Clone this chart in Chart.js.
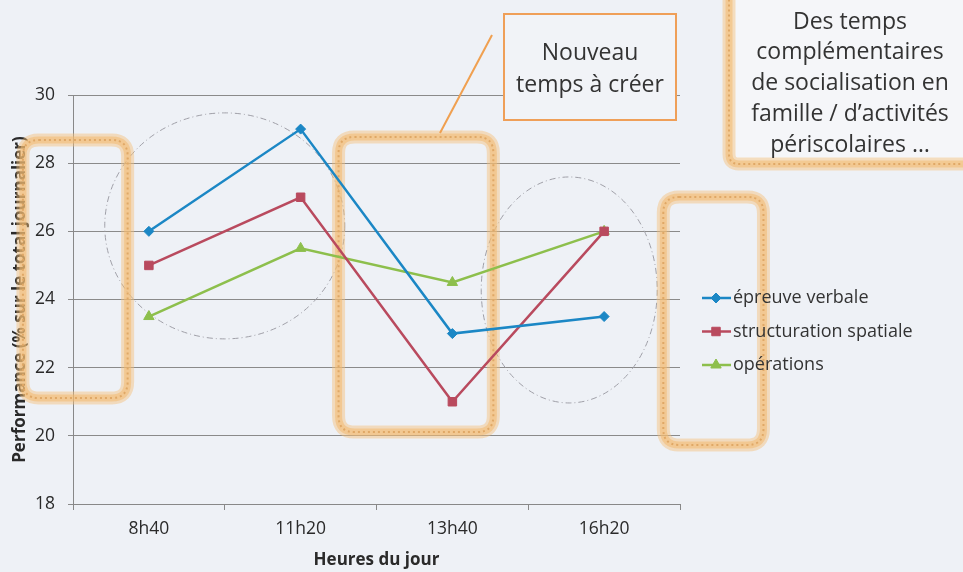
<!DOCTYPE html>
<html lang="fr">
<head>
    <meta charset="UTF-8">
    <title>Performance selon l'heure du jour</title>
    <script src="https://cdn.jsdelivr.net/npm/chart.js"></script>
    <style>
        html, body { margin: 0; padding: 0; background: #eef1f6; }
        #wrap { width: 963px; height: 572px; }
    </style>
</head>
<body>
    <div id="wrap">
        <canvas id="Chart" width="963" height="572"></canvas>
    </div>

    <script>
        // data
        const heures = ['8h40', '11h20', '13h40', '16h20'];
        const verbale = [26, 29, 23, 23.5];
        const spatiale = [25, 27, 21, 26];
        const operations = [23.5, 25.5, 24.5, 26];
        const seriesNames = ['épreuve verbale', 'structuration spatiale', 'opérations'];

        const FONT = '"Open Sans", Lato, sans-serif';

        // highlight boxes, in category index / value units
        const glowBoxes = [
            { x0: -0.83, x1: -0.14, y0: 28.68, y1: 21.11 },
            { x0: 1.25, x1: 2.27, y0: 28.77, y1: 20.11 },
            { x0: 3.39, x1: 4.05, y0: 27.01, y1: 19.73 }
        ];
        // dashed circles (centre in index / value, radii in px)
        const circles = [
            { x: 0.5, y: 26.16, rx: 120, ry: 113 },
            { x: 2.77, y: 24.28, rx: 88, ry: 113 }
        ];

        function roundRect(ctx, x, y, w, h, r) {
            ctx.beginPath();
            ctx.moveTo(x + r, y);
            ctx.lineTo(x + w - r, y);
            ctx.quadraticCurveTo(x + w, y, x + w, y + r);
            ctx.lineTo(x + w, y + h - r);
            ctx.quadraticCurveTo(x + w, y + h, x + w - r, y + h);
            ctx.lineTo(x + r, y + h);
            ctx.quadraticCurveTo(x, y + h, x, y + h - r);
            ctx.lineTo(x, y + r);
            ctx.quadraticCurveTo(x, y, x + r, y);
            ctx.closePath();
        }

        function glowRect(ctx, x, y, w, h, r) {
            ctx.save();
            roundRect(ctx, x, y, w, h, r);
            ctx.strokeStyle = 'rgba(244, 190, 120, 0.45)';
            ctx.lineWidth = 13;
            ctx.stroke();
            ctx.strokeStyle = 'rgba(242, 185, 112, 0.55)';
            ctx.lineWidth = 7;
            ctx.stroke();
            ctx.setLineDash([2, 3]);
            ctx.strokeStyle = '#e0a866';
            ctx.lineWidth = 2;
            ctx.stroke();
            ctx.restore();
        }

        const annotations = {
            id: 'annotations',
            beforeDraw(chart) {
                const ctx = chart.ctx;
                ctx.save();
                ctx.fillStyle = '#eef1f6';
                ctx.fillRect(0, 0, chart.width, chart.height);
                ctx.restore();
            },
            beforeDatasetsDraw(chart) {
                const ctx = chart.ctx;
                const xs = chart.scales.x, ys = chart.scales.y;
                const step = xs.getPixelForValue(1) - xs.getPixelForValue(0);
                const px = i => xs.getPixelForValue(0) + i * step;

                // dashed circles
                ctx.save();
                ctx.strokeStyle = '#a0a0a8';
                ctx.lineWidth = 1;
                ctx.setLineDash([6, 3, 1, 3]);
                circles.forEach(c => {
                    ctx.beginPath();
                    ctx.ellipse(px(c.x), ys.getPixelForValue(c.y), c.rx, c.ry, 0, 0, Math.PI * 2);
                    ctx.stroke();
                });
                ctx.restore();

                glowBoxes.forEach(b => {
                    const x0 = px(b.x0), x1 = px(b.x1);
                    const y0 = ys.getPixelForValue(b.y0), y1 = ys.getPixelForValue(b.y1);
                    glowRect(ctx, x0, y0, x1 - x0, y1 - y0, 16);
                });

                // callout line
                ctx.save();
                ctx.strokeStyle = '#f0a050';
                ctx.lineWidth = 2;
                ctx.beginPath();
                ctx.moveTo(440, 133);
                ctx.lineTo(492, 35);
                ctx.stroke();

                // "Nouveau temps à créer" box
                ctx.fillStyle = '#f1f3f7';
                ctx.fillRect(504, 14, 172, 106);
                ctx.strokeStyle = '#ef9f58';
                ctx.lineWidth = 2;
                ctx.strokeRect(504, 14, 172, 106);
                ctx.fillStyle = '#333';
                ctx.font = '23px ' + FONT;
                ctx.textAlign = 'center';
                ctx.textBaseline = 'middle';
                ctx.fillText('Nouveau', 590, 53);
                ctx.fillText('temps à créer', 590, 85);
                ctx.restore();

                // top-right box
                ctx.save();
                roundRect(ctx, 729, -20, 250, 184, 10);
                ctx.fillStyle = '#f5f6f9';
                ctx.fill();
                ctx.restore();
                glowRect(ctx, 729, -20, 250, 184, 10);
                ctx.save();
                ctx.fillStyle = '#333';
                ctx.font = '23px ' + FONT;
                ctx.textAlign = 'center';
                ctx.textBaseline = 'middle';
                ['Des temps', 'complémentaires', 'de socialisation en',
                 'famille / d\u2019activités', 'périscolaires \u2026'].forEach((t, i) => {
                    ctx.fillText(t, 850, 22 + i * 30.8);
                });
                ctx.restore();
            },
            afterDraw(chart) {
                // legend: line with marker, then label
                const ctx = chart.ctx;
                ctx.save();
                chart.data.datasets.forEach((ds, i) => {
                    const y = 298 + i * 33.5;
                    ctx.strokeStyle = ds.borderColor;
                    ctx.fillStyle = ds.backgroundColor;
                    ctx.lineWidth = 2.5;
                    ctx.beginPath();
                    ctx.moveTo(702, y);
                    ctx.lineTo(731, y);
                    ctx.stroke();
                    ctx.lineWidth = 1;
                    Chart.helpers.drawPoint(ctx, {
                        pointStyle: ds.pointStyle,
                        radius: ds.pointRadius,
                        rotation: 0,
                        borderWidth: 1
                    }, 716, y);
                    ctx.fillStyle = '#333';
                    ctx.font = '18px ' + FONT;
                    ctx.textAlign = 'left';
                    ctx.textBaseline = 'middle';
                    ctx.fillText(ds.label, 733, y);
                });
                ctx.restore();
            }
        };

        function createChart() {
            const ctx = document.getElementById('Chart');
            const colors = ['#1b87c5', '#b94a5e', '#8dbf4c'];
            const styles = ['rectRot', 'rect', 'triangle'];
            const radii = [5, 6, 6];
            const values = [verbale, spatiale, operations];

            new Chart(ctx, {
                type: 'line',
                data: {
                    labels: heures,
                    datasets: values.map((v, i) => ({
                        label: seriesNames[i],
                        data: v,
                        borderColor: colors[i],
                        backgroundColor: colors[i],
                        borderWidth: 2.5,
                        pointStyle: styles[i],
                        pointRadius: radii[i],
                        pointBorderWidth: 1,
                        tension: 0,
                        fill: false
                    }))
                },
                options: {
                    responsive: false,
                    animation: false,
                    layout: { padding: { top: 95, right: 283, left: 0, bottom: 0 } },
                    plugins: {
                        legend: { display: false },
                        tooltip: { enabled: false }
                    },
                    scales: {
                        x: {
                            offset: true,
                            grid: {
                                offset: true,
                                drawOnChartArea: false,
                                tickLength: 6,
                                color: '#888'
                            },
                            border: { color: '#888' },
                            ticks: {
                                color: '#2a2a2a',
                                font: { family: FONT, size: 17.5 },
                                padding: 9
                            },
                            title: {
                                display: true,
                                text: 'Heures du jour',
                                color: '#2a2a2a',
                                font: { family: FONT, size: 17, weight: 'bold' },
                                padding: { top: 2, bottom: 2 }
                            },
                            afterFit(scale) { scale.height = 68; }
                        },
                        y: {
                            min: 18,
                            max: 30,
                            ticks: {
                                stepSize: 2,
                                color: '#2a2a2a',
                                font: { family: FONT, size: 17.5 },
                                padding: 13
                            },
                            grid: { color: '#8a8a8a', tickLength: 5 },
                            border: { color: '#888' },
                            title: {
                                display: true,
                                text: 'Performance (% sur le total journalier)',
                                color: '#2a2a2a',
                                font: { family: FONT, size: 17, weight: 'bold' },
                                padding: { top: 10, bottom: 0 }
                            },
                            afterFit(scale) { scale.width = 73; }
                        }
                    }
                },
                plugins: [annotations]
            });
        }
        createChart();
    </script>
</body>
</html>
